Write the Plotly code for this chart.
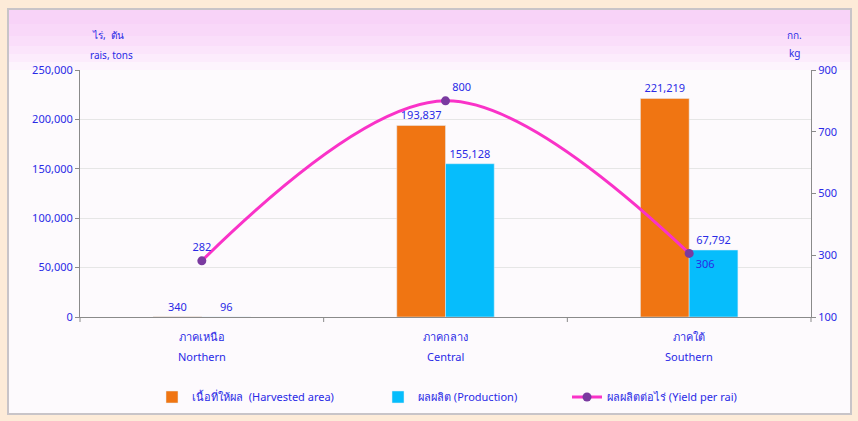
import plotly.graph_objects as go

categories = ["Northern", "Central", "Southern"]
thai_labels = ["ภาคเหนือ", "ภาคกลาง", "ภาคใต้"]
harvested_area = [340, 193837, 221219]
production = [96, 155128, 67792]
yield_per_rai = [282, 800, 306]

blue = "#2a2ae6"
font_family = "Tahoma, Noto Sans, DejaVu Sans, sans-serif"

L, R, T, B = 80, 47, 70, 104
W, H = 858, 421
PW, PH = W - L - R, H - T - B


def px(x):
    return (x - L) / PW


def py(y):
    return (H - B - y) / PH


fig = go.Figure()
fig.add_trace(go.Bar(
    x=categories, y=harvested_area, name="เนื้อที่ให้ผล  (Harvested area)",
    marker=dict(color="#f07512"), legend="legend",
    text=[f"{v:,}" for v in harvested_area], textposition="outside",
    textfont=dict(color=blue, size=11), cliponaxis=False,
))
fig.add_trace(go.Bar(
    x=categories, y=production, name="ผลผลิต (Production)",
    marker=dict(color="#06bdfc"), legend="legend2",
    text=[f"{v:,}" for v in production], textposition="outside",
    textfont=dict(color=blue, size=11), cliponaxis=False,
))
fig.add_trace(go.Scatter(
    x=categories, y=yield_per_rai, name="ผลผลิตต่อไร่ (Yield per rai)",
    yaxis="y2", mode="lines+markers+text", legend="legend3",
    line=dict(color="#fa32c8", width=3, shape="spline", smoothing=1.0),
    marker=dict(color="#7a3aa0", size=9),
    text=[str(v) for v in yield_per_rai],
    textposition=["top center", "top right", "bottom right"],
    textfont=dict(color=blue, size=11), cliponaxis=False,
))

shapes = [
    dict(type="rect", xref="paper", yref="paper", x0=px(8), x1=px(851), y0=py(414), y1=py(9),
         fillcolor="#fdfafd", line=dict(color="#c8c4c8", width=2), layer="below"),
]
# pink top band fading downwards
band = [(10, 24, "#f8d3f8"), (24, 36, "#f9d8f9"), (36, 46, "#fadefa"), (46, 54, "#fbe5fb"),
        (54, 62, "#fcecfc"), (62, 70, "#fdf4fd")]
for y0, y1, c in band:
    shapes.append(dict(type="rect", xref="paper", yref="paper", x0=px(9), x1=px(850),
                       y0=py(y1), y1=py(y0), fillcolor=c, line=dict(width=0), layer="below"))
for xb in [1 / 3, 2 / 3, 0, 1]:
    shapes.append(dict(type="line", xref="paper", yref="paper", x0=xb, x1=xb, y0=0, y1=py(322),
                       line=dict(color="#8a8a8a", width=1)))

annotations = [
    dict(text="ไร่,  ตัน", xref="paper", yref="paper", x=px(108), y=py(35), showarrow=False,
         font=dict(size=10, color=blue), xanchor="center", yanchor="middle"),
    dict(text="rais, tons", xref="paper", yref="paper", x=px(111), y=py(55), showarrow=False,
         font=dict(size=10, color=blue), xanchor="center", yanchor="middle"),
    dict(text="กก.", xref="paper", yref="paper", x=px(794), y=py(35), showarrow=False,
         font=dict(size=10, color=blue), xanchor="center", yanchor="middle"),
    dict(text="kg", xref="paper", yref="paper", x=px(795), y=py(53), showarrow=False,
         font=dict(size=10, color=blue), xanchor="center", yanchor="middle"),
]
for cat, th in zip(categories, thai_labels):
    annotations.append(dict(text=th, xref="x", yref="paper", x=cat, y=py(336), showarrow=False,
                            font=dict(size=11, color=blue), xanchor="center", yanchor="middle"))
    annotations.append(dict(text=cat, xref="x", yref="paper", x=cat, y=py(356), showarrow=False,
                            font=dict(size=11, color=blue), xanchor="center", yanchor="middle"))


def leg(xpx):
    return dict(orientation="h", x=px(xpx), xanchor="left", y=py(397), yanchor="middle",
                font=dict(size=11, color=blue), bgcolor="rgba(0,0,0,0)", itemwidth=30)


fig.update_layout(
    width=W, height=H,
    margin=dict(l=L, r=R, t=T, b=B, autoexpand=False),
    paper_bgcolor="#fdebd8",
    plot_bgcolor="white",
    font=dict(family=font_family, color=blue, size=11),
    barmode="group", bargap=0.6, bargroupgap=0.0,
    showlegend=True,
    legend=leg(152), legend2=leg(378), legend3=leg(567),
    xaxis=dict(showline=True, linecolor="#8a8a8a", ticks="", showticklabels=False,
               showgrid=False),
    yaxis=dict(range=[0, 250000], dtick=50000, tickformat=",", showline=True, linecolor="#8a8a8a",
               ticks="outside", ticklen=4, tickcolor="#8a8a8a", gridcolor="#e6e6e6",
               tickfont=dict(color=blue, size=11), zeroline=False),
    yaxis2=dict(range=[100, 900], tick0=100, dtick=200, overlaying="y", side="right", showline=True,
                linecolor="#8a8a8a", ticks="outside", ticklen=4, tickcolor="#8a8a8a",
                showgrid=False, tickfont=dict(color=blue, size=11), zeroline=False),
    shapes=shapes,
    annotations=annotations,
)

fig.write_html("out.html", config={"displayModeBar": False},
               post_script="document.body.style.margin='0px';document.body.style.background='#fdebd8';")
